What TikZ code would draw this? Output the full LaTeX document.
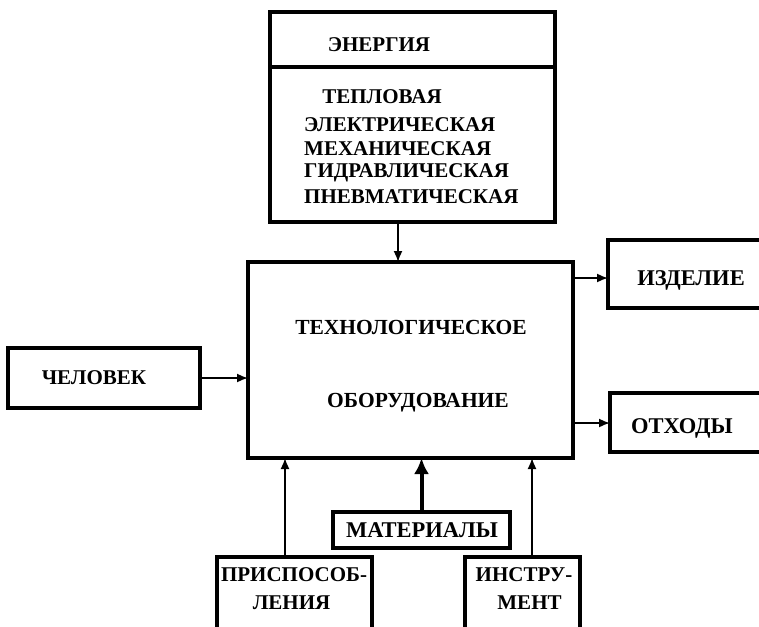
\documentclass[tikz,border=0pt]{standalone}
\usepackage{fontspec}
\setmainfont{Liberation Serif}
\usetikzlibrary{arrows.meta}
\tikzset{
  box/.style={draw, line width=3.2pt, rectangle, inner sep=0pt, outer sep=0pt},
  lbl/.style={font=\fontsize{21}{24}\selectfont\bfseries, inner sep=0pt},
  lblw/.style={font=\fontsize{22.5}{25}\selectfont\bfseries, inner sep=0pt},
  big/.style={font=\fontsize{21.5}{24}\selectfont\bfseries, inner sep=0pt},
  arr/.style={line width=1.6pt, -{Latex[length=11pt,width=9pt]}},
  thickarr/.style={line width=4pt, -{Latex[length=16pt,width=15pt]}}
}
\begin{document}
\begin{tikzpicture}[x=1pt,y=-1pt]
\useasboundingbox (0,0) rectangle (759,626);
\clip (0,0) rectangle (759,626);
% boxes
\node[box, minimum width=285pt, minimum height=210pt] (energy) at (412.5,117) {};
\coordinate (divl) at (270,67);
\coordinate (divr) at (555,67);
\draw[line width=3.2pt] (divl) -- (divr);
\node[box, minimum width=325pt, minimum height=196pt] (main) at (410.5,360) {};
\node[box, minimum width=192pt, minimum height=60pt] (chel) at (104,378) {};
\node[box, minimum width=167pt, minimum height=68pt] (izd) at (691.5,274) {};
\node[box, minimum width=165pt, minimum height=59pt] (otx) at (692.5,422.5) {};
\node[box, minimum width=177pt, minimum height=36pt] (mat) at (421.5,530) {};
\node[box, minimum width=155pt, minimum height=83pt] (pri) at (294.5,598.5) {};
\node[box, minimum width=115pt, minimum height=83pt] (ins) at (522.5,598.5) {};
% texts
\node[lbl] (tEn) at (379,45) {ЭНЕРГИЯ};
\node[lbl] (t1) at (382,97) {ТЕПЛОВАЯ};
\node[lbl, anchor=west] (t2) at (304,125) {ЭЛЕКТРИЧЕСКАЯ};
\node[lbl, anchor=west] (t3) at (304,149) {МЕХАНИЧЕСКАЯ};
\node[lbl, anchor=west] (t4) at (304,173) {ГИДРАВЛИЧЕСКАЯ};
\node[lbl, anchor=west] (t5) at (304,197) {ПНЕВМАТИЧЕСКАЯ};
\node[big] (tm1) at (411,327) {ТЕХНОЛОГИЧЕСКОЕ};
\node[big] (tm2) at (418,403) {ОБОРУДОВАНИЕ};
\node[lbl] (tch) at (94,378) {ЧЕЛОВЕК};
\node[lblw] (tiz) at (691,280) {ИЗДЕЛИЕ};
\node[lblw] (tot) at (682,428) {ОТХОДЫ};
\node[lblw] (tma) at (422,530) {МАТЕРИАЛЫ};
\node[lbl] (tp1) at (294,575) {ПРИСПОСОБ-};
\node[lbl] (tp2) at (291.5,603) {ЛЕНИЯ};
\node[lbl] (ti1) at (524,575) {ИНСТРУ-};
\node[lbl] (ti2) at (529.5,603) {МЕНТ};
% connectors
\coordinate (ex) at (398,0);
\draw[arr] (energy.south -| ex) -- (main.north -| ex);
\draw[arr] (chel.east) -- (chel.east -| main.west);
\coordinate (iy) at (0,278);
\draw[arr] (main.east |- iy) -- (izd.west |- iy);
\coordinate (oy) at (0,423);
\draw[arr] (main.east |- oy) -- (otx.west |- oy);
\draw[thickarr] (mat.north) -- (mat.north |- main.south);
\coordinate (px) at (285,0);
\draw[arr] (pri.north -| px) -- (main.south -| px);
\coordinate (ix) at (532,0);
\draw[arr] (ins.north -| ix) -- (main.south -| ix);
\end{tikzpicture}
\end{document}
